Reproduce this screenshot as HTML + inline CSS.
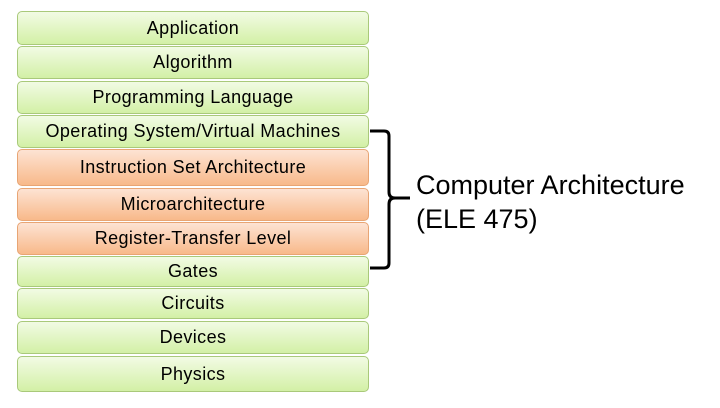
<!DOCTYPE html>
<html><head><style>
body{margin:0;width:720px;height:408px;background:#fff;position:relative;font-family:"Liberation Sans",sans-serif;overflow:hidden}
.b{position:absolute;left:17px;width:352px;border:1px solid #a9c97a;border-radius:5px;box-sizing:border-box;display:flex;align-items:center;justify-content:center;font-size:18px;letter-spacing:0.4px;color:#000;background:linear-gradient(#f2fbe4,#d3f0a6)}
.o{border-color:#e8a574;background:linear-gradient(#fde3d3,#f8b98a)}
.t{position:absolute;left:416px;font-size:27px;color:#000}
</style></head><body>
<div class="b" style="top:11px;height:34px">Application</div>
<div class="b" style="top:46px;height:33px">Algorithm</div>
<div class="b" style="top:81px;height:33px">Programming Language</div>
<div class="b" style="top:115px;height:33px">Operating System/Virtual Machines</div>
<div class="b o" style="top:149px;height:37px">Instruction Set Architecture</div>
<div class="b o" style="top:188px;height:33px">Microarchitecture</div>
<div class="b o" style="top:222px;height:33px">Register-Transfer Level</div>
<div class="b" style="top:256px;height:31px">Gates</div>
<div class="b" style="top:288px;height:31px">Circuits</div>
<div class="b" style="top:321px;height:33px">Devices</div>
<div class="b" style="top:356px;height:36px">Physics</div>
<svg style="position:absolute;left:0;top:0" width="720" height="408">
<path d="M370 131 H384 Q389 131 389 136 V192 Q389 198 395 198 H410 M395 198 Q389 198 389 204 V263 Q389 268 384 268 H370" fill="none" stroke="#000" stroke-width="3"/>
</svg>
<div class="t" style="top:170px">Computer Architecture</div>
<div class="t" style="top:204px">(ELE 475)</div>
</body></html>
